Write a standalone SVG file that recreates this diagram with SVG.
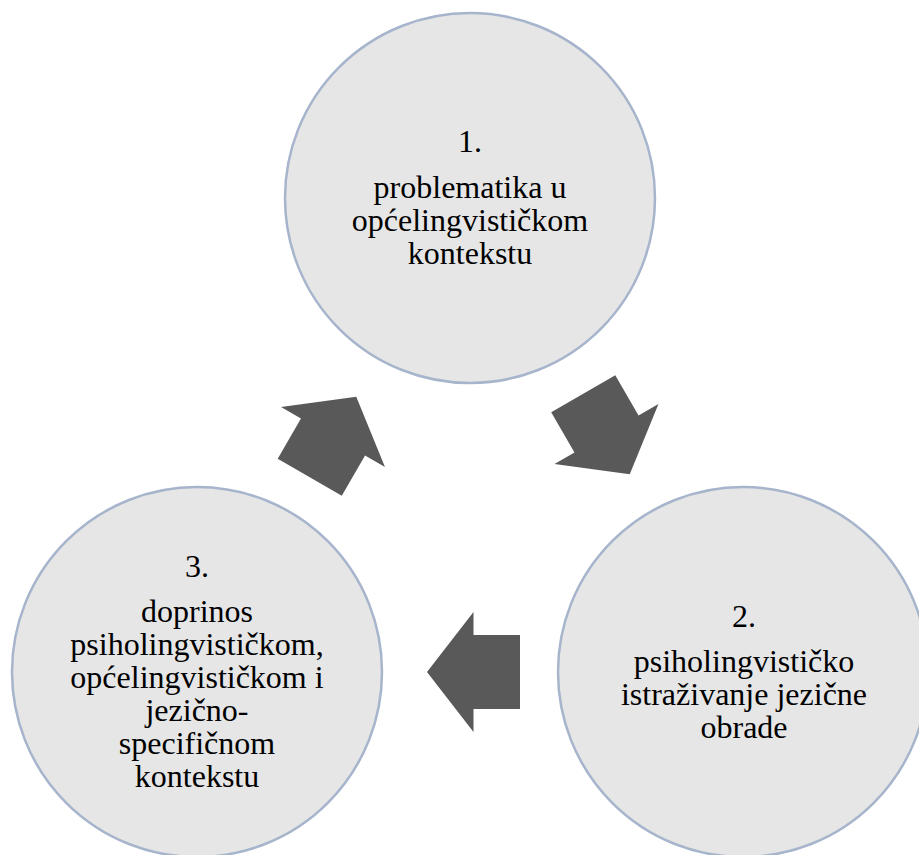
<svg xmlns="http://www.w3.org/2000/svg" width="919" height="855" viewBox="0 0 919 855">
<defs>
<style>
.node{fill:#e6e6e6;stroke:#a6b4cc;stroke-width:2.5}
.lbl{font-family:"Liberation Serif","Times New Roman",serif;font-size:32px;fill:#000;text-anchor:middle}
.arr{fill:#595959}
</style>
<polygon id="arrow" points="-46.5,-37 0,-37 0,-60 46.5,0 0,60 0,37 -46.5,37"/>
</defs>
<rect width="919" height="855" fill="#fff"/>
<g id="connectors">
<use href="#arrow" class="arr" transform="translate(606.5,434) rotate(60)"/>
<use href="#arrow" class="arr" transform="translate(473.5,672) rotate(180)"/>
<use href="#arrow" class="arr" transform="translate(333,437) rotate(-60)"/>
</g>
<g id="node1">
<circle class="node" cx="470" cy="198" r="185"/>
<text class="lbl" x="470" y="152">1.</text>
<text class="lbl" x="470" y="198">problematika u</text>
<text class="lbl" x="470" y="231">općelingvističkom</text>
<text class="lbl" x="470" y="264">kontekstu</text>
</g>
<g id="node2">
<circle class="node" cx="743" cy="672" r="185"/>
<text class="lbl" x="744" y="627">2.</text>
<text class="lbl" x="744" y="672">psiholingvističko</text>
<text class="lbl" x="744" y="705">istraživanje jezične</text>
<text class="lbl" x="744" y="738">obrade</text>
</g>
<g id="node3">
<circle class="node" cx="197" cy="672" r="185"/>
<text class="lbl" x="197" y="577">3.</text>
<text class="lbl" x="197" y="622">doprinos</text>
<text class="lbl" x="197" y="655">psiholingvističkom,</text>
<text class="lbl" x="197" y="688">općelingvističkom i</text>
<text class="lbl" x="197" y="721">jezično-</text>
<text class="lbl" x="197" y="754">specifičnom</text>
<text class="lbl" x="197" y="787">kontekstu</text>
</g>
</svg>
